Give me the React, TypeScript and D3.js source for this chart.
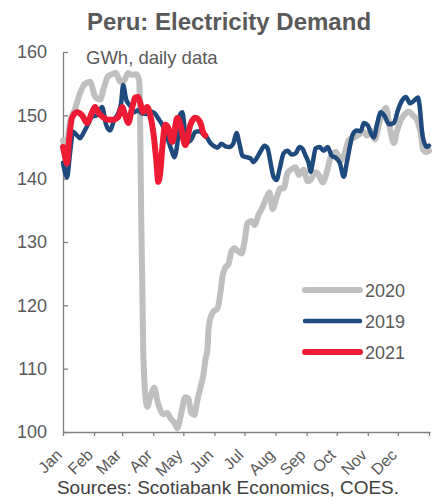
import { useEffect, useRef } from "react";
import * as d3 from "d3";

// day of year -> GWh
const demand2020: [number, number][] = [
  [0, 146], [3, 145], [7, 149], [12, 151], [17, 153.5], [22, 155], [27, 155.3], [32, 153],
  [37, 152.5], [41, 154.5], [45, 156.2], [49, 156.5], [53, 156.7], [57, 155.3], [61, 155.5],
  [65, 156.7], [69, 156.4], [73, 156.5], [76, 155.5], [77, 148], [78, 134], [79, 124], [80, 113],
  [82, 106], [84, 104], [87, 105.5], [91, 107], [94, 105], [97, 103.5], [100, 102.8], [104, 103],
  [107, 102.2], [111, 101.5], [114, 100.6], [118, 103], [122, 105.5], [125, 105.3], [128, 103],
  [131, 102.7], [134, 105], [137, 107], [140, 109], [142, 111.4], [144, 113], [145, 116],
  [147, 118], [150, 119], [154, 119.5], [157, 122], [159, 124.5], [162, 126], [165, 126.5],
  [168, 128.5], [171, 129], [174, 128.6], [178, 128.2], [181, 130], [184, 133], [188, 133.3],
  [191, 132.7], [195, 134.3], [199, 135.5], [203, 137], [206, 137.8], [209, 135.2], [213, 137],
  [217, 138.5], [220, 138.5], [224, 140.9], [228, 141.5], [232, 141.8], [235, 140.6], [240, 141.4],
  [244, 139.6], [247, 139.8], [251, 141], [255, 140.6], [259, 139.4], [263, 141], [267, 143.4],
  [272, 144.2], [277, 142.9], [281, 144], [285, 146.1], [290, 146.5], [295, 146.9], [299, 147.5],
  [303, 146.8], [307, 147.6], [311, 146.2], [315, 148.5], [319, 150.5], [322, 151.2], [326, 148],
  [330, 145.6], [333, 147.5], [337, 149.3], [341, 150.2], [345, 150.6], [349, 150], [353, 149.3],
  [357, 147], [359, 144.6], [363, 144.2], [365, 144.4],
];

const demand2019: [number, number][] = [
  [0, 142.5], [2, 141], [4, 140.2], [7, 144], [10, 147.4], [13, 147], [17, 146.4], [21, 147.4],
  [25, 148.6], [29, 149.8], [34, 150], [39, 151.3], [43, 148.5], [47, 147.6], [51, 149.3],
  [55, 150.3], [58, 152], [60, 154.8], [63, 152.5], [67, 151.5], [71, 150.5], [75, 150.8],
  [79, 150.3], [83, 150.2], [87, 150.6], [91, 150.4], [95, 149.5], [99, 148.5], [102, 147.4],
  [105, 146], [108, 144.6], [111, 143.4], [114, 145.5], [117, 150.2], [119, 150.5], [122, 147],
  [125, 145.8], [128, 146.2], [132, 147.4], [136, 147.5], [140, 147], [144, 146.4], [147, 145.6],
  [150, 145.2], [154, 144.9], [158, 145.5], [162, 145.1], [166, 145], [170, 145.6], [173, 147.2],
  [176, 145.5], [179, 143.6], [183, 143.4], [187, 143.2], [190, 142.6], [193, 143.2], [197, 144.3],
  [201, 145.2], [204, 144.8], [207, 142.5], [210, 140.3], [213, 139.8], [216, 141.5], [220, 144],
  [224, 144.4], [228, 143.8], [232, 144], [236, 145], [239, 144.7], [242, 143.6], [245, 142.5],
  [247, 141.1], [249, 142.5], [252, 144.8], [256, 145], [260, 144.4], [264, 145], [268, 143.6],
  [272, 143.3], [276, 142.5], [280, 140.3], [283, 142.5], [286, 145], [289, 147], [293, 147.6],
  [297, 147.5], [300, 148.8], [304, 148.4], [307, 147.2], [310, 146.5], [313, 148.5], [317, 150.5],
  [321, 149.8], [325, 148.6], [330, 148.8], [334, 150.8], [338, 152.3], [342, 152.9], [346, 151.9],
  [350, 152.3], [354, 152.8], [356, 151], [358, 147.5], [360, 145.8], [363, 145], [365, 145.2],
];

const demand2021: [number, number][] = [
  [0, 145], [2, 143.5], [4, 142.4], [6, 146], [9, 149.6], [14, 150.5], [19, 150], [24, 148.8],
  [29, 150.5], [32, 151.3], [35, 150.5], [40, 149.7], [45, 149.3], [50, 149.3], [55, 149.7],
  [59, 151.3], [62, 150], [65, 148.8], [69, 151.2], [72, 152.8], [75, 152.9], [77, 152],
  [80, 150.5], [84, 151.3], [87, 150], [90, 147.4], [93, 143], [95, 139.5], [97, 141],
  [99, 144.8], [102, 148.5], [105, 148], [109, 145.8], [114, 149.6], [117, 148.5], [122, 145.3],
  [127, 148.5], [132, 149.6], [137, 148.8], [140, 147.2], [142, 146.8],
];

const monthStarts = [0, 31, 59, 90, 120, 151, 181, 212, 243, 273, 304, 334, 365];
const monthLabels = ["Jan", "Feb", "Mar", "Apr", "May", "Jun", "Jul", "Aug", "Sep", "Oct", "Nov", "Dec"];
const yTicks = [100, 110, 120, 130, 140, 150, 160];

const series = [
  { name: "2020", data: demand2020, color: "#BFBFBF", width: 6 },
  { name: "2019", data: demand2019, color: "#1F4A7E", width: 4.5 },
  { name: "2021", data: demand2021, color: "#EE1B34", width: 6 },
];

const W = 435;
const H = 504;
const FONT = "'Liberation Sans', Arial, sans-serif";
const TEXT = "#595959";
const AXIS = "#808080";

export default function App() {
  const svgRef = useRef<SVGSVGElement>(null);

  useEffect(() => {
    if (!svgRef.current) return;
    const svg = d3.select(svgRef.current);
    svg.selectAll("*").remove();

    const x = d3.scaleLinear().domain([0, 366]).range([63, 430]);
    const y = d3.scaleLinear().domain([100, 160]).range([432, 52]);

    // Title + unit note
    svg.append("text")
      .attr("x", 229)
      .attr("y", 30)
      .attr("text-anchor", "middle")
      .attr("font-family", FONT)
      .attr("font-size", "24px")
      .attr("font-weight", "bold")
      .attr("fill", TEXT)
      .text("Peru: Electricity Demand");

    svg.append("text")
      .attr("x", 86)
      .attr("y", 64)
      .attr("font-family", FONT)
      .attr("font-size", "18.5px")
      .attr("fill", TEXT)
      .text("GWh, daily data");

    // Y axis, ticks pointing into the plot
    const yAxis = svg.append("g")
      .attr("transform", `translate(${x(0)},0)`)
      .call(d3.axisLeft(y).tickValues(yTicks).tickSizeInner(-5).tickSizeOuter(0).tickPadding(16));
    yAxis.selectAll("text")
      .attr("font-family", FONT)
      .attr("font-size", "18px")
      .attr("fill", TEXT);

    // X axis with month boundary ticks
    const xAxis = svg.append("g")
      .attr("transform", `translate(0,${y(100)})`)
      .call(d3.axisBottom(x).tickValues(monthStarts).tickSizeInner(4).tickSizeOuter(0).tickFormat(() => ""));

    svg.selectAll(".domain, .tick line").attr("stroke", AXIS).attr("stroke-width", 1.3);

    xAxis.selectAll(".month")
      .data(monthLabels)
      .join("text")
      .attr("class", "month")
      .attr("transform", (_, i) => `translate(${x(monthStarts[i])},${456 - y(100)}) rotate(-45)`)
      .attr("text-anchor", "end")
      .attr("font-family", FONT)
      .attr("font-size", "16px")
      .attr("fill", TEXT)
      .text((d) => d);

    // Lines
    const line = d3.line<[number, number]>()
      .x((d) => x(d[0]))
      .y((d) => y(d[1]))
      .curve(d3.curveMonotoneX);

    series.forEach((s) => {
      svg.append("path")
        .datum(s.data)
        .attr("fill", "none")
        .attr("stroke", s.color)
        .attr("stroke-width", s.width)
        .attr("stroke-linejoin", "round")
        .attr("stroke-linecap", "round")
        .attr("d", line);
    });

    // Legend
    const legend = svg.append("g").attr("transform", "translate(305,290)");
    series.forEach((s, i) => {
      legend.append("line")
        .attr("x1", 0)
        .attr("x2", 55)
        .attr("y1", i * 31)
        .attr("y2", i * 31)
        .attr("stroke", s.color)
        .attr("stroke-width", s.width)
        .attr("stroke-linecap", "round");
      legend.append("text")
        .attr("x", 60)
        .attr("y", i * 31 + 7)
        .attr("font-family", FONT)
        .attr("font-size", "18px")
        .attr("fill", TEXT)
        .text(s.name);
    });

    // Source
    svg.append("text")
      .attr("x", 228)
      .attr("y", 494)
      .attr("text-anchor", "middle")
      .attr("font-family", FONT)
      .attr("font-size", "19px")
      .attr("fill", "#404040")
      .text("Sources: Scotiabank Economics, COES.");
  }, []);

  return (
    <svg
      ref={svgRef}
      width={W}
      height={H}
      viewBox={`0 0 ${W} ${H}`}
      style={{ position: "absolute", left: 0, top: 0, background: "#fff" }}
    />
  );
}
